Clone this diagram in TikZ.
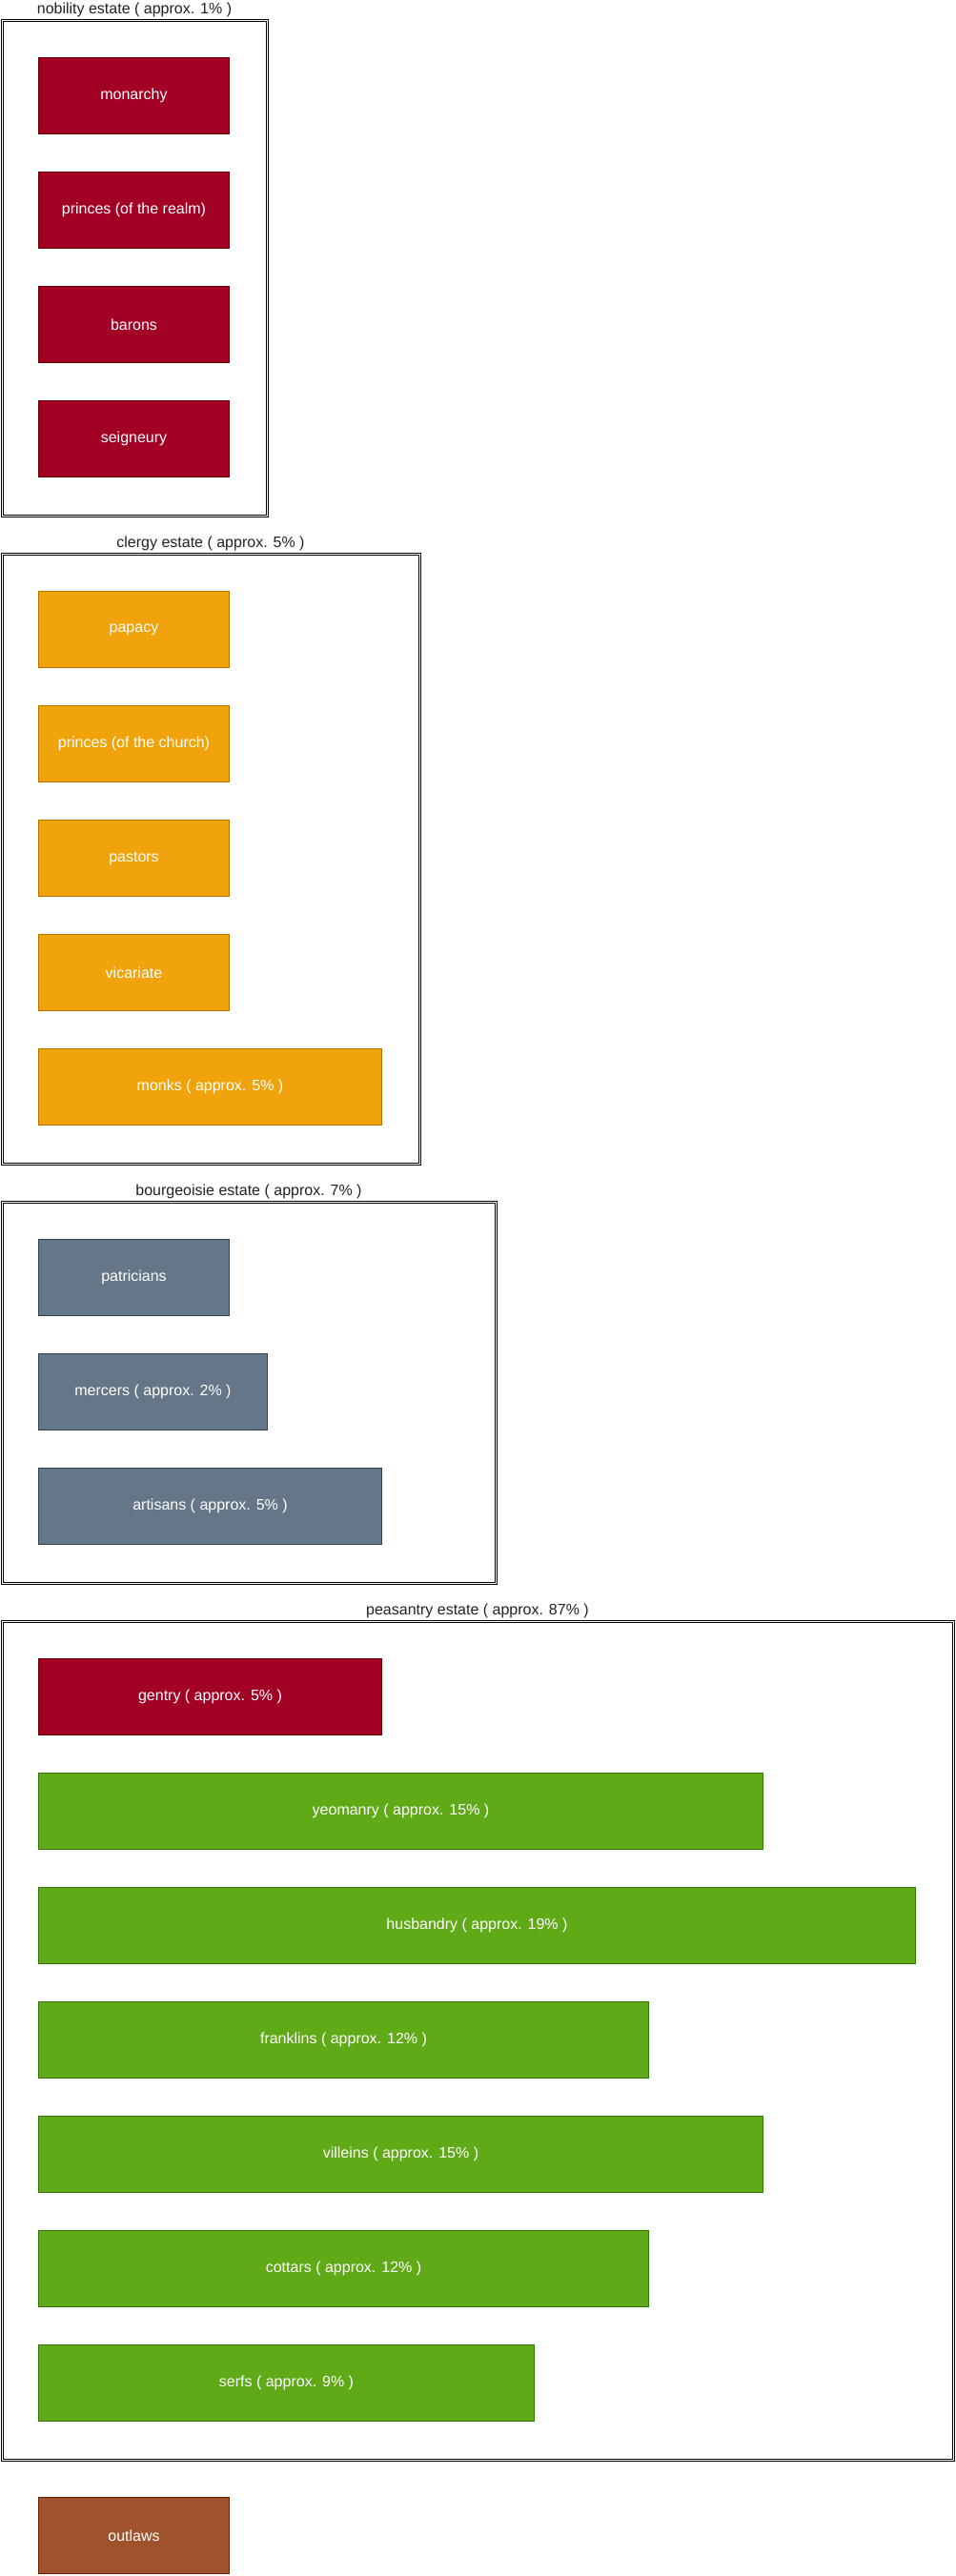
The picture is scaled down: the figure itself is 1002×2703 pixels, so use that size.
\documentclass[tikz,border=0pt]{standalone}
\usepackage{fontspec}
\setmainfont{Liberation Sans}
\definecolor{nobleFill}{HTML}{A20025}
\definecolor{nobleLine}{HTML}{6F0000}
\definecolor{clergyFill}{HTML}{F0A30A}
\definecolor{clergyLine}{HTML}{BD7000}
\definecolor{burgherFill}{HTML}{647687}
\definecolor{burgherLine}{HTML}{314354}
\definecolor{peasantFill}{HTML}{60A917}
\definecolor{peasantLine}{HTML}{2D7600}
\definecolor{outlawFill}{HTML}{A0522D}
\definecolor{outlawLine}{HTML}{6D1F00}
\definecolor{titleText}{HTML}{222222}
\tikzset{
	estate/.style={draw=black, line width=1pt, double=white, double distance=1pt, anchor=north west, inner sep=0pt},
	estatetitle/.style={anchor=south, inner sep=3pt, text=titleText, font=\fontsize{16}{19}\selectfont},
	rank/.style={anchor=north west, inner sep=0pt, line width=1pt, minimum height=80pt, text=white, font=\fontsize{16}{19}\selectfont},
	noble/.style={rank, fill=nobleFill, draw=nobleLine},
	cleric/.style={rank, fill=clergyFill, draw=clergyLine},
	burgher/.style={rank, fill=burgherFill, draw=burgherLine},
	peasant/.style={rank, fill=peasantFill, draw=peasantLine},
	outlaw/.style={rank, fill=outlawFill, draw=outlawLine}
}
\begin{document}
\begin{tikzpicture}[x=1pt, y=-1pt]
	\useasboundingbox (0,0) rectangle (1002,2703);
	\node [estate, minimum width=278pt, minimum height=520pt] (nobility) at (1.5,21) {};
	\node [estatetitle] (nobilityTitle) at (nobility.north) {nobility estate ( approx. 1\% )};
	\node [noble, minimum width=200pt] (monarchy) at (40,60) {monarchy};
	\node [noble, minimum width=200pt] (realmPrinces) at (40,180) {princes (of the realm)};
	\node [noble, minimum width=200pt] (barons) at (40,300) {barons};
	\node [noble, minimum width=200pt] (seigneury) at (40,420) {seigneury};
	\node [estate, minimum width=438pt, minimum height=640pt] (clergy) at (1.5,581) {};
	\node [estatetitle] (clergyTitle) at (clergy.north) {clergy estate ( approx. 5\% )};
	\node [cleric, minimum width=200pt] (papacy) at (40,620) {papacy};
	\node [cleric, minimum width=200pt] (churchPrinces) at (40,740) {princes (of the church)};
	\node [cleric, minimum width=200pt] (pastors) at (40,860) {pastors};
	\node [cleric, minimum width=200pt] (vicariate) at (40,980) {vicariate};
	\node [cleric, minimum width=360pt] (monks) at (40,1100) {monks ( approx. 5\% )};
	\node [estate, minimum width=518pt, minimum height=400pt] (bourgeoisie) at (1.5,1261) {};
	\node [estatetitle] (bourgeoisieTitle) at (bourgeoisie.north) {bourgeoisie estate ( approx. 7\% )};
	\node [burgher, minimum width=200pt] (patricians) at (40,1300) {patricians};
	\node [burgher, minimum width=240pt] (mercers) at (40,1420) {mercers ( approx. 2\% )};
	\node [burgher, minimum width=360pt] (artisans) at (40,1540) {artisans ( approx. 5\% )};
	\node [estate, minimum width=998pt, minimum height=880pt] (peasantry) at (1.5,1701) {};
	\node [estatetitle] (peasantryTitle) at (peasantry.north) {peasantry estate ( approx. 87\% )};
	\node [noble, minimum width=360pt] (gentry) at (40,1740) {gentry ( approx. 5\% )};
	\node [peasant, minimum width=760pt] (yeomanry) at (40,1860) {yeomanry ( approx. 15\% )};
	\node [peasant, minimum width=920pt] (husbandry) at (40,1980) {husbandry ( approx. 19\% )};
	\node [peasant, minimum width=640pt] (franklins) at (40,2100) {franklins ( approx. 12\% )};
	\node [peasant, minimum width=760pt] (villeins) at (40,2220) {villeins ( approx. 15\% )};
	\node [peasant, minimum width=640pt] (cottars) at (40,2340) {cottars ( approx. 12\% )};
	\node [peasant, minimum width=520pt] (serfs) at (40,2460) {serfs ( approx. 9\% )};
	\node [outlaw, minimum width=200pt] (outlaws) at (40,2620) {outlaws};
\end{tikzpicture}
\end{document}
